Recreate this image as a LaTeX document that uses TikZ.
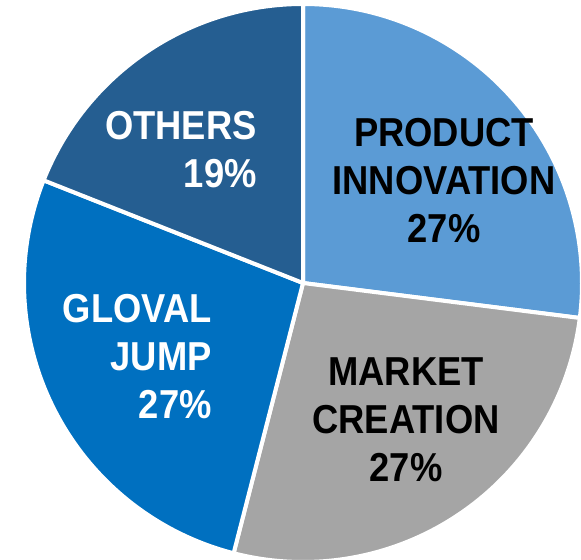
\documentclass[tikz,border=0pt]{standalone}
\usepackage{fontspec}
\setmainfont{Liberation Sans}[FakeStretch=0.9]
\usetikzlibrary{positioning}
\definecolor{innovblue}{HTML}{5B9BD5}
\definecolor{marketgray}{HTML}{A5A5A5}
\definecolor{globalblue}{HTML}{0070C0}
\definecolor{othersblue}{HTML}{255E91}
\tikzset{
    piechart/.style={
        x=0.5pt, y=0.5pt,
        % Stile per gli spicchi
        wedge/.style={draw=white, line width=2pt, line join=round},
        % Stile per le etichette
        pietext/.style={font=\fontsize{20.2}{24}\selectfont\bfseries,
                        inner sep=0pt}
    }
}

\begin{document}
\begin{tikzpicture}[piechart]
  \useasboundingbox (0,0) rectangle (581,559);
  \coordinate (c) at (303,276);

  % Spicchi
  \draw[wedge, fill=innovblue] (c) -- ++(90:279) arc[start angle=90, end angle=-7.2, radius=279] -- cycle;
  \draw[wedge, fill=marketgray] (c) -- ++(-7.2:279) arc[start angle=-7.2, end angle=-104.4, radius=279] -- cycle;
  \draw[wedge, fill=globalblue] (c) -- ++(-104.4:279) arc[start angle=-104.4, end angle=-201.6, radius=279] -- cycle;
  \draw[wedge, fill=othersblue] (c) -- ++(158.4:279) arc[start angle=158.4, end angle=90, radius=279] -- cycle;

  % Etichette
  \node[pietext, align=center] (innov) at (444,378) {PRODUCT\\INNOVATION\\27\%};
  \node[pietext, align=center] (market) at (406,139) {MARKET\\CREATION\\27\%};
  \node[pietext, align=right, white, anchor=east] (gloval) at (212,202) {GLOVAL\\JUMP\\27\%};
  \node[pietext, align=right, white, anchor=east] (others) at (257,409) {OTHERS\\19\%};
\end{tikzpicture}
\end{document}
